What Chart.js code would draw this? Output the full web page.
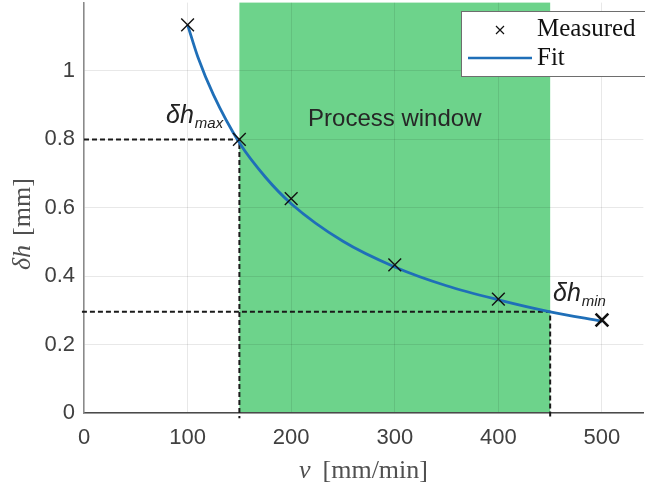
<!DOCTYPE html>
<html>
<head>
<meta charset="utf-8">
<script src="https://cdn.jsdelivr.net/npm/chart.js@4/dist/chart.umd.min.js"></script>
<style>
  html, body { margin: 0; padding: 0; background: #fff; overflow: hidden; }
  #page { position: relative; width: 645px; height: 489px; overflow: hidden; }
  #wrap { position: absolute; left: 0; top: -9px; width: 655px; height: 498px; }
</style>
</head>
<body>
<div id="page"><div id="wrap"><canvas id="chart"></canvas></div></div>
<script>
// measured points
const measuredV = [100, 150, 200, 300, 400, 500]
const measuredH = [1.135, 0.80, 0.627, 0.433, 0.333, 0.272]

// fit curve
const fitV = [100, 110, 125, 150, 175, 200, 250, 300, 350, 400, 450, 500]
const fitH = [1.135, 1.04, 0.93, 0.79, 0.69, 0.612, 0.502, 0.427, 0.372, 0.331, 0.296, 0.268]

// process window bounds
const windowV = [150, 450]
const windowH = [0.80, 0.296]   // dh max, dh min

const xTicks = [0, 100, 200, 300, 400, 500]
const yTicks = [0, 0.2, 0.4, 0.6, 0.8, 1]

const blue = '#1f6fb8'
const green = 'rgb(109, 211, 139)'
const SHIFT = 9 // canvas sits 9px above the page
const sans = '"Liberation Sans", Arial, sans-serif'
const serif = '"Liberation Serif", "DejaVu Serif", serif'

const toXY = (xs, ys) => xs.map((x, i) => ({ x, y: ys[i] }))

const dashed = (pts) => ({
  type: 'line',
  data: pts,
  borderColor: '#1a1a1a',
  borderWidth: 2,
  borderDash: [5, 3],
  pointRadius: 0,
  clip: false,
  order: 3
})

const windowPlugin = {
  id: 'processWindow',
  beforeDraw(chart) {
    const { ctx, chartArea, scales: { x } } = chart
    const x0 = x.getPixelForValue(windowV[0])
    const x1 = x.getPixelForValue(windowV[1])
    ctx.save()
    ctx.fillStyle = green
    ctx.fillRect(x0, chartArea.top, x1 - x0, chartArea.bottom - chartArea.top)
    ctx.restore()
  }
}

function subLabel(ctx, x, y, main, sub) {
  ctx.font = 'italic 25px ' + sans
  ctx.fillStyle = '#222'
  ctx.textAlign = 'left'
  ctx.textBaseline = 'alphabetic'
  ctx.fillText(main, x, y)
  const w = ctx.measureText(main).width
  ctx.font = 'italic 15px ' + sans
  ctx.fillText(sub, x + w + 1, y + 5)
}

// italic symbol, a gap, then the unit; starts at sx on the current baseline
function mixedTitle(ctx, sx, italicPart, rest, gap) {
  ctx.font = 'italic 26px ' + serif
  ctx.fillText(italicPart, sx, 0)
  const w1 = ctx.measureText(italicPart).width
  ctx.font = '26px ' + serif
  ctx.fillText(rest, sx + w1 + gap, 0)
}

const labelsPlugin = {
  id: 'labels',
  afterDraw(chart) {
    const { ctx, scales: { x } } = chart
    ctx.save()
    ctx.translate(0, SHIFT)

    // process window caption
    ctx.font = '24px ' + sans
    ctx.fillStyle = '#262626'
    ctx.textAlign = 'center'
    ctx.textBaseline = 'middle'
    ctx.fillText('Process window', (x.getPixelForValue(windowV[0]) + x.getPixelForValue(windowV[1])) / 2, 119)

    subLabel(ctx, 166, 123, 'δh', 'max')
    subLabel(ctx, 553, 301, 'δh', 'min')

    // axis titles
    ctx.fillStyle = '#505050'
    ctx.textAlign = 'left'
    ctx.textBaseline = 'alphabetic'
    ctx.save()
    ctx.translate(0, 478)
    mixedTitle(ctx, 299, 'v', '[mm/min]', 12)
    ctx.restore()

    ctx.save()
    ctx.translate(30, 270)
    ctx.rotate(-Math.PI / 2)
    mixedTitle(ctx, 0, 'δh', '[mm]', 9)
    ctx.restore()

    // legend
    ctx.fillStyle = '#fff'
    ctx.strokeStyle = '#6e6e6e'
    ctx.lineWidth = 1
    ctx.fillRect(461.5, 11.5, 190, 65)
    ctx.strokeRect(461.5, 11.5, 190, 65)
    ctx.strokeStyle = '#111'
    ctx.lineWidth = 1.2
    ctx.beginPath()
    ctx.moveTo(496, 26); ctx.lineTo(504, 34)
    ctx.moveTo(504, 26); ctx.lineTo(496, 34)
    ctx.stroke()
    ctx.strokeStyle = blue
    ctx.lineWidth = 2.5
    ctx.beginPath()
    ctx.moveTo(468, 58); ctx.lineTo(532, 58)
    ctx.stroke()
    ctx.fillStyle = '#111'
    ctx.font = '25px ' + serif
    ctx.textAlign = 'left'
    ctx.textBaseline = 'alphabetic'
    ctx.fillText('Measured', 537, 36)
    ctx.fillText('Fit', 537, 65)
    ctx.restore()
  }
}

new Chart(document.getElementById('chart'), {
  type: 'scatter',
  data: {
    datasets: [
      {
        label: 'Measured',
        data: toXY(measuredV, measuredH),
        pointStyle: 'crossRot',
        pointRadius: 9,
        pointBorderColor: '#111',
        pointBorderWidth: (c) => c.dataIndex === measuredV.length - 1 ? 2.6 : 1.4,
        borderColor: '#111',
        showLine: false,
        clip: false,
        order: 1
      },
      {
        label: 'Fit',
        type: 'line',
        data: toXY(fitV, fitH),
        borderColor: blue,
        borderWidth: 2.8,
        pointRadius: 0,
        cubicInterpolationMode: 'monotone',
        order: 2
      },
      dashed([{ x: 0, y: windowH[0] }, { x: windowV[0], y: windowH[0] }, { x: windowV[0], y: -0.015 }]),
      dashed([{ x: -2, y: windowH[1] }, { x: windowV[1], y: windowH[1] }, { x: windowV[1], y: -0.015 }])
    ]
  },
  options: {
    responsive: true,
    maintainAspectRatio: false,
    animation: false,
    layout: { padding: { top: 2, right: 2, left: 0, bottom: 0 } },
    plugins: {
      legend: { display: false },
      tooltip: { enabled: false }
    },
    scales: {
      x: {
        type: 'linear',
        min: 0,
        max: 540,
        afterBuildTicks: (s) => { s.ticks = xTicks.map(v => ({ value: v })) },
        afterFit: (s) => { s.height = 76; s.paddingLeft = 0; s.paddingRight = 0 },
        grid: { color: 'rgba(0,0,0,0.09)', drawTicks: false },
        border: { color: '#4a4a4a', width: 1.5 },
        ticks: {
          padding: 12,
          color: '#404040',
          font: { family: sans, size: 22 }
        }
      },
      y: {
        min: 0,
        max: 1.2,
        afterBuildTicks: (s) => { s.ticks = yTicks.map(v => ({ value: v })) },
        afterFit: (s) => { s.width = 84; s.paddingTop = 0; s.paddingBottom = 0 },
        grid: { color: 'rgba(0,0,0,0.09)', drawTicks: false },
        border: { color: '#8a8a8a', width: 1.5 },
        ticks: {
          padding: 9,
          color: '#404040',
          font: { family: sans, size: 22 },
          callback: (v) => String(Math.round(v * 10) / 10)
        }
      }
    }
  },
  plugins: [windowPlugin, labelsPlugin]
})
</script>
</body>
</html>
